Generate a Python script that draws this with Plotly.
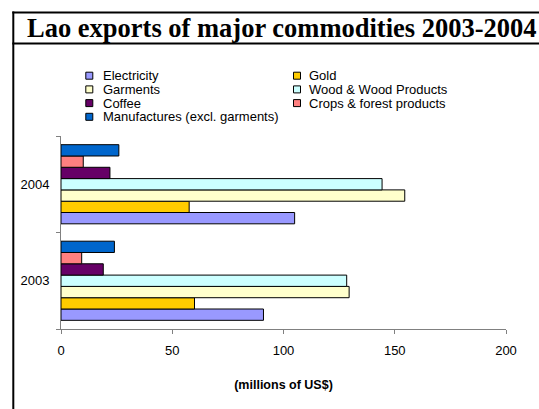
import plotly.graph_objects as go

# Export values, millions of US$
years = ["2003", "2004"]
commodities = [
    "Electricity",
    "Gold",
    "Garments",
    "Wood & Wood Products",
    "Coffee",
    "Crops & forest products",
    "Manufactures (excl. garments)",
]
electricity = [91.0, 105.0]
gold = [60.0, 57.6]
garments = [129.5, 154.5]
wood = [128.4, 144.3]
coffee = [19.0, 22.0]
crops = [9.3, 10.0]
manufactures = [24.0, 26.0]
series = [electricity, gold, garments, wood, coffee, crops, manufactures]
colors = ["#9999FF", "#FFCC00", "#FFFFCC", "#CCFFFF", "#660066", "#FF8080", "#0066CC"]

title_text = "Lao exports of major commodities 2003-2004"
x_title = "<b>(millions of US$)</b>"
x_ticks = [0, 50, 100, 150, 200]

W, H = 539, 409
L, R, T, B = 61, 33, 136, 80
PW, PH = W - L - R, H - T - B


def fx(px):
    return (px - L) / PW


def fy(py):
    return (H - B - py) / PH


SANS = "Liberation Sans, Arial, sans-serif"
SERIF = "Liberation Serif, Times New Roman, serif"

fig = go.Figure()
for name, vals, col in zip(commodities, series, colors):
    fig.add_trace(go.Bar(
        y=years, x=vals, name=name, orientation="h",
        marker=dict(color=col, line=dict(color="#000000", width=1)),
        showlegend=False,
    ))

shapes = []
annotations = []

# outer frame and title separator
frame = dict(type="line", xref="paper", yref="paper", line=dict(color="#000000", width=2))
shapes.append(dict(frame, x0=fx(13.3), x1=fx(13.3), y0=fy(11.5), y1=fy(420)))
shapes.append(dict(frame, x0=fx(12.3), x1=fx(545), y0=fy(12.5), y1=fy(12.5)))
shapes.append(dict(frame, x0=fx(12.3), x1=fx(545), y0=fy(43.5), y1=fy(43.5)))

annotations.append(dict(
    text="<b>" + title_text + "</b>", xref="paper", yref="paper",
    x=fx(25), y=fy(28.0), xanchor="left", yanchor="middle", showarrow=False,
    font=dict(family=SERIF, size=26.5, color="#000000"),
))

# two-column legend, filled row by row
col_marker_x = [89.3, 297.0]
col_text_x = [100.5, 306.5]
row_y0, row_step = 75.7, 13.7
sw = 3.5
for i, (name, col) in enumerate(zip(commodities, colors)):
    c, r = i % 2, i // 2
    cx, cy = col_marker_x[c], row_y0 + r * row_step
    shapes.append(dict(
        type="rect", xref="paper", yref="paper",
        x0=fx(cx - sw), x1=fx(cx + sw), y0=fy(cy + sw), y1=fy(cy - sw),
        fillcolor=col, line=dict(color="#000000", width=1),
    ))
    annotations.append(dict(
        text=name, xref="paper", yref="paper", x=fx(col_text_x[c]), y=fy(cy),
        xanchor="left", yanchor="middle", showarrow=False,
        font=dict(family=SANS, size=13, color="#000000"),
    ))

axis_col = "#808080"
fig.update_layout(
    width=W, height=H,
    margin=dict(l=L, r=R, t=T, b=B, pad=0),
    paper_bgcolor="#FFFFFF", plot_bgcolor="#FFFFFF",
    barmode="group", bargap=0.18, bargroupgap=0,
    showlegend=False,
    shapes=shapes, annotations=annotations,
    font=dict(family=SANS, size=13, color="#000000"),
    xaxis=dict(
        range=[0, 200], tickvals=x_ticks, showgrid=False, zeroline=False,
        showline=True, linecolor=axis_col, linewidth=1,
        ticks="outside", ticklen=4, tickcolor=axis_col,
        tickfont=dict(family=SANS, size=13, color="#000000"),
        ticklabelstandoff=5,
        title=dict(text=x_title, standoff=23,
                   font=dict(family=SANS, size=12.5, color="#000000")),
        fixedrange=True,
    ),
    yaxis=dict(
        type="category", categoryorder="array", categoryarray=years,
        showgrid=False, zeroline=False,
        showline=True, linecolor=axis_col, linewidth=1,
        ticks="outside", ticklen=4, tickcolor=axis_col, tickson="boundaries",
        tickfont=dict(family=SANS, size=13, color="#000000"),
        ticklabelstandoff=8,
        fixedrange=True,
    ),
)

fig.write_html("out.html", config=dict(displayModeBar=False))
